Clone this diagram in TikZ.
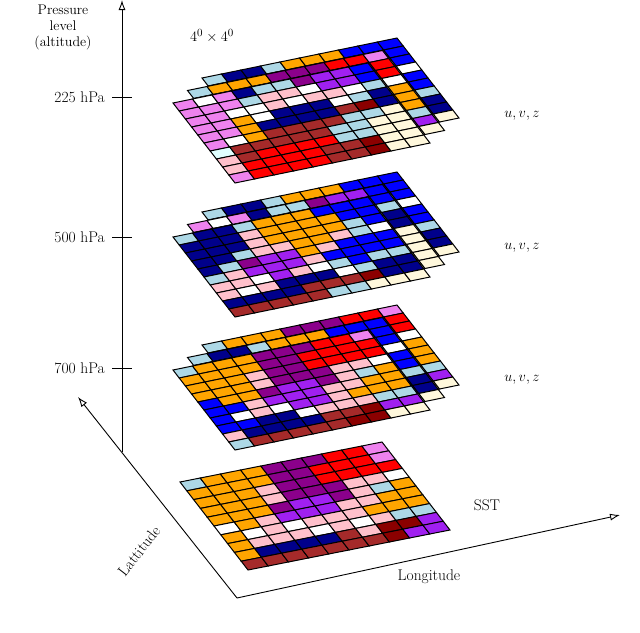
\documentclass[tikz,border=0pt]{standalone}
\usepackage{tikz}
\usetikzlibrary{arrows.meta}
\begin{document}
\definecolor{or}{HTML}{FFA500}\definecolor{pu}{HTML}{8B008B}\definecolor{mp}{HTML}{A020F0}
\definecolor{re}{HTML}{FF0000}\definecolor{pk}{HTML}{FFC0CB}\definecolor{wh}{HTML}{FFFFFF}
\definecolor{lb}{HTML}{ADD8E6}\definecolor{nv}{HTML}{00008B}\definecolor{bl}{HTML}{0000FF}
\definecolor{vi}{HTML}{EE82EE}\definecolor{br}{HTML}{A52A2A}\definecolor{dr}{HTML}{8B0000}
\definecolor{lc}{HTML}{E0FFFF}\definecolor{cs}{HTML}{FFF8DC}
\def\gA{vi,wh,vi,nv,lb,lb,pu,mp,mp,bl,
vi,vi,vi,lb,pk,pk,wh,mp,mp,bl,
vi,vi,wh,wh,pk,wh,pk,pk,wh,lb,
vi,vi,or,wh,nv,nv,nv,wh,lb,nv,
vi,vi,or,nv,nv,nv,nv,br,dr,nv,
vi,wh,or,br,br,br,br,lb,lb,cs,
lc,br,br,br,br,br,lb,lb,cs,cs,
pk,br,re,re,re,re,lb,lb,cs,cs,
pk,re,re,re,re,br,br,dr,cs,cs,
vi,re,re,re,re,br,br,dr,cs,cs}
\def\gB{lb,nv,nv,lb,or,or,or,bl,bl,bl,
nv,nv,nv,pk,or,or,or,or,bl,bl,
nv,nv,nv,pk,or,or,or,or,lb,bl,
nv,nv,lb,pk,pk,or,or,pk,lb,wh,
nv,lb,pu,mp,mp,or,pk,bl,bl,bl,
lb,pk,mp,mp,mp,pk,bl,bl,bl,bl,
pk,pk,wh,mp,pk,wh,lb,bl,lb,lb,
pk,wh,pk,nv,nv,nv,wh,lb,nv,nv,
nv,nv,nv,nv,br,br,br,dr,nv,nv,
br,br,br,br,br,lb,lb,cs,cs,cs}
\def\gC{lb,or,or,or,pu,pu,pu,re,re,vi,
or,or,or,or,pu,pu,re,re,re,re,
or,or,or,pk,pu,pu,re,re,re,re,
or,or,or,pk,pu,pu,pu,pk,pk,wh,
bl,or,or,pu,mp,mp,pu,pk,lb,or,
bl,bl,pk,mp,mp,mp,pk,pk,or,or,
bl,wh,pk,wh,mp,mp,pk,or,or,or,
bl,bl,nv,nv,wh,pk,pk,pk,lb,lb,
pk,nv,nv,nv,nv,br,br,dr,mp,mp,
lb,br,br,br,br,br,dr,dr,cs,cs}
\def\gS{lb,or,or,or,pu,pu,pu,re,re,vi,
or,or,or,or,pu,pu,re,re,re,vi,
or,or,or,pk,pu,pu,re,re,re,re,
or,or,or,pk,pu,pu,pu,pk,pk,wh,
or,or,or,pu,mp,mp,pu,pk,lb,or,
wh,or,pk,mp,mp,mp,pk,pk,or,or,
or,wh,pk,wh,pk,pk,pk,or,or,or,
or,pk,pk,pk,wh,pk,wh,pk,lb,lb,
or,nv,nv,nv,nv,br,pk,dr,dr,mp,
br,br,br,br,br,br,br,dr,mp,mp}
\newcommand\drawgrid[7]{% ox oy ux uy vx vy list
  \foreach \c [count=\i from 0] in #7 {
    \pgfmathtruncatemacro\gr{\i/10}
    \pgfmathtruncatemacro\gk{mod(\i,10)}
    \pgfmathsetmacro\gx{#1+\gk*#3+\gr*#5}
    \pgfmathsetmacro\gy{#2+\gk*#4+\gr*#6}
    \filldraw[cell,fill=\c] (\gx,\gy) -- ++(#3,#4) -- ++(#5,#6) -- ++(-#3,-#4) -- cycle;
  }}
\newcommand\level[5]{% ox oy back mid front
  \drawgrid{#1+29}{#2-25}{19.5}{-4}{6.2}{8}{#3}
  \drawgrid{#1+14.5}{#2-12.5}{19.5}{-4}{6.2}{8}{#4}
  \drawgrid{#1}{#2}{19.5}{-4}{6.2}{8}{#5}}
\begin{tikzpicture}[x=1pt,y=-1pt,cell/.style={draw=black,line width=1pt,line join=miter},
  ax/.style={line width=0.9pt,-{Latex[open,length=10pt,width=7pt]}},
  lab/.style={font=\fontsize{15.5}{18}\selectfont,inner sep=1pt}]
\useasboundingbox (0,0) rectangle (640,632);
\level{173}{103}{\gB}{\gC}{\gA}
\level{173}{237}{\gB}{\gA}{\gB}
\level{173}{370}{\gC}{\gB}{\gC}
\drawgrid{180}{482}{20.2}{-4}{6.8}{8.8}{\gS}
\coordinate (o) at (237,598);
\coordinate (lat) at (78,397);
\coordinate (lon) at (620,515);
\coordinate (vb) at (122,452);
\coordinate (vt) at (122,0);
\draw[ax] (o) -- (lat);
\draw[ax] (o) -- (lon);
\draw[ax] (vb) -- (vt);
\foreach \n/\yy/\t in {t1/97/225, t2/237/500, t3/368/700}{
  \coordinate (\n a) at (112,\yy); \coordinate (\n b) at (132,\yy);
  \draw[line width=0.9pt] (\n a) -- (\n b);
  \node[lab,anchor=east] (\n l) at (106,\yy) {\t\ hPa};
}
\node[align=center,font=\fontsize{14}{16}\selectfont,inner sep=0pt] (plev) at (63,27) {Pressure\\level\\(altitude)};
\node[lab] (res) at (212,36) {$4^0\times4^0$};
\node[lab] (uvz1) at (522,116) {$u, v, z$};
\node[lab] (uvz2) at (522,248) {$u, v, z$};
\node[lab] (uvz3) at (522,380) {$u, v, z$};
\node[lab] (sst) at (487,505) {SST};
\node[lab] (lonl) at (429,577) {Longitude};
\node[lab,rotate=52] (latl) at (139,551) {Lattitude};
\end{tikzpicture}
\end{document}
